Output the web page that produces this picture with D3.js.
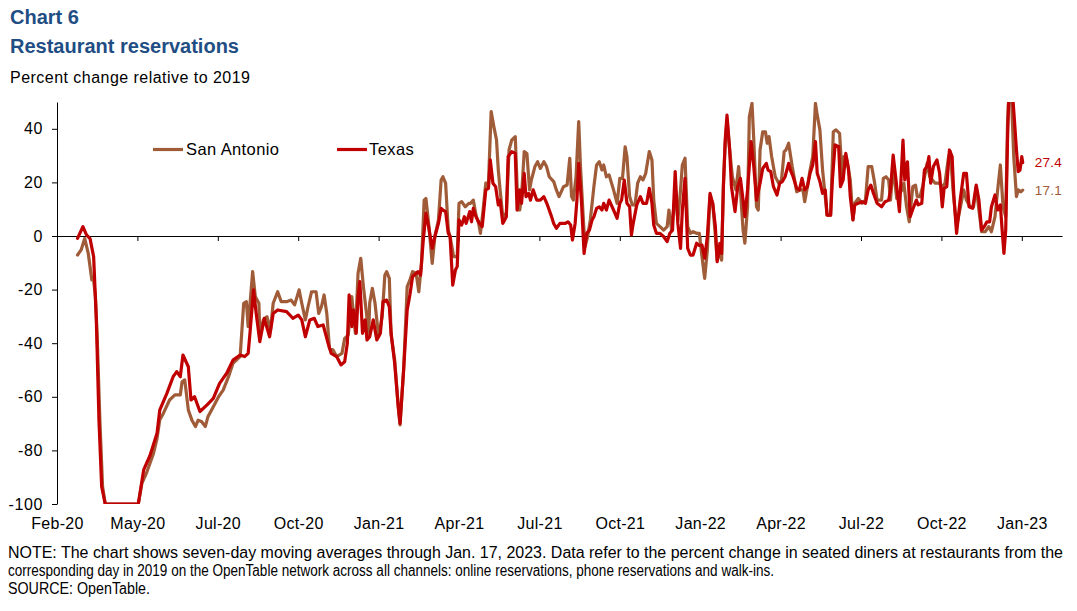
<!DOCTYPE html>
<html><head><meta charset="utf-8">
<script src="https://cdn.jsdelivr.net/npm/d3@7"></script>
<style>
html,body{margin:0;padding:0;background:#fff;}
svg{display:block;font-family:"Liberation Sans",Arial,sans-serif;}
</style></head><body>
<svg id="chart" width="1077" height="611"></svg>
<script>
// ---------------- DATA ----------------
const seriesNames = ["San Antonio", "Texas"];
const yTicks = [-100, -80, -60, -40, -20, 0, 20, 40];
const xTickDates = ["2020-02-01","2020-05-01","2020-07-30","2020-10-28","2021-01-26","2021-04-26","2021-07-25","2021-10-23","2022-01-21","2022-04-21","2022-07-20","2022-10-18","2023-01-16"];
const xTickLabels = ["Feb-20","May-20","Jul-20","Oct-20","Jan-21","Apr-21","Jul-21","Oct-21","Jan-22","Apr-22","Jul-22","Oct-22","Jan-23"];
const xDomain = ["2020-02-01","2023-03-02"];
const yDomain = [-100, 50];

const texasDates = [
"2020-02-24","2020-03-01","2020-03-05","2020-03-09","2020-03-13","2020-03-16","2020-03-19","2020-03-22",
"2020-03-26","2020-05-02","2020-05-08","2020-05-15","2020-05-23","2020-05-26","2020-06-03","2020-06-10",
"2020-06-14","2020-06-18","2020-06-21","2020-06-27","2020-06-30","2020-07-04","2020-07-10","2020-07-18",
"2020-07-25","2020-08-01","2020-08-09","2020-08-16","2020-08-24","2020-08-29","2020-09-02","2020-09-04",
"2020-09-08","2020-09-11","2020-09-15","2020-09-20","2020-09-26","2020-09-30","2020-10-05","2020-10-15",
"2020-10-22","2020-10-28","2020-11-01","2020-11-05","2020-11-10","2020-11-15","2020-11-19","2020-11-25",
"2020-12-01","2020-12-04","2020-12-10","2020-12-15","2020-12-19","2020-12-22","2020-12-24","2020-12-27",
"2020-12-29","2021-01-01","2021-01-03","2021-01-05","2021-01-08","2021-01-11","2021-01-13","2021-01-16",
"2021-01-20","2021-01-24","2021-01-28","2021-01-31","2021-02-04","2021-02-07","2021-02-09","2021-02-13",
"2021-02-17","2021-02-19","2021-02-23","2021-02-27","2021-03-02","2021-03-05","2021-03-11","2021-03-14",
"2021-03-17","2021-03-20","2021-03-23","2021-03-27","2021-03-30","2021-04-03","2021-04-06","2021-04-08",
"2021-04-11","2021-04-14","2021-04-16","2021-04-19","2021-04-22","2021-04-24","2021-04-26","2021-04-29",
"2021-05-02","2021-05-04","2021-05-08","2021-05-10","2021-05-12","2021-05-15","2021-05-19","2021-05-22",
"2021-05-26","2021-05-29","2021-05-31","2021-06-03","2021-06-06","2021-06-09","2021-06-11","2021-06-14",
"2021-06-18","2021-06-20","2021-06-24","2021-06-28","2021-06-30","2021-07-03","2021-07-05","2021-07-08",
"2021-07-10","2021-07-13","2021-07-15","2021-07-18","2021-07-22","2021-07-26","2021-07-30","2021-08-03",
"2021-08-07","2021-08-10","2021-08-13","2021-08-17","2021-08-23","2021-08-26","2021-08-29","2021-08-31",
"2021-09-03","2021-09-05","2021-09-07","2021-09-10","2021-09-13","2021-09-16","2021-09-19","2021-09-22",
"2021-09-24","2021-09-27","2021-09-30","2021-10-03","2021-10-05","2021-10-08","2021-10-11","2021-10-16",
"2021-10-20","2021-10-23","2021-10-25","2021-10-28","2021-10-31","2021-11-03","2021-11-05","2021-11-07",
"2021-11-11","2021-11-15","2021-11-18","2021-11-22","2021-11-25","2021-11-28","2021-11-30","2021-12-03",
"2021-12-07","2021-12-11","2021-12-15","2021-12-18","2021-12-21","2021-12-24","2021-12-27","2021-12-30",
"2022-01-01","2022-01-04","2022-01-07","2022-01-10","2022-01-13","2022-01-17","2022-01-20","2022-01-23",
"2022-01-26","2022-01-29","2022-02-01","2022-02-04","2022-02-07","2022-02-09","2022-02-10","2022-02-12",
"2022-02-14","2022-02-16","2022-02-18","2022-02-20","2022-02-23","2022-02-25","2022-03-01","2022-03-04",
"2022-03-07","2022-03-10","2022-03-12","2022-03-15","2022-03-19","2022-03-22","2022-03-25","2022-03-29",
"2022-04-01","2022-04-05","2022-04-07","2022-04-10","2022-04-13","2022-04-17","2022-04-20","2022-04-23",
"2022-04-26","2022-04-30","2022-05-02","2022-05-05","2022-05-09","2022-05-12","2022-05-15","2022-05-18",
"2022-05-21","2022-05-24","2022-05-27","2022-05-30","2022-06-01","2022-06-04","2022-06-07","2022-06-10",
"2022-06-12","2022-06-16","2022-06-18","2022-06-21","2022-06-25","2022-06-27","2022-06-30","2022-07-03",
"2022-07-06","2022-07-08","2022-07-11","2022-07-13","2022-07-17","2022-07-21","2022-07-25","2022-07-28",
"2022-07-31","2022-08-03","2022-08-07","2022-08-12","2022-08-16","2022-08-20","2022-08-22","2022-08-25",
"2022-08-28","2022-09-01","2022-09-05","2022-09-07","2022-09-10","2022-09-13","2022-09-17","2022-09-20",
"2022-09-22","2022-09-26","2022-09-29","2022-10-02","2022-10-04","2022-10-06","2022-10-09","2022-10-13",
"2022-10-16","2022-10-19","2022-10-21","2022-10-24","2022-10-27","2022-10-30","2022-11-01","2022-11-04",
"2022-11-08","2022-11-12","2022-11-15","2022-11-18","2022-11-22","2022-11-26","2022-11-29","2022-12-02",
"2022-12-05","2022-12-08","2022-12-11","2022-12-13","2022-12-17","2022-12-20","2022-12-23","2022-12-25",
"2022-12-27","2022-12-29","2022-12-31","2023-01-02","2023-01-05","2023-01-08","2023-01-10","2023-01-12",
"2023-01-14","2023-01-16","2023-01-17"];
const texasValues = [
-0.9,3.5,0.4,-1,-7.7,-31,-69,-93.5,
-100,-100,-87.3,-82,-73.6,-65,-58.7,-52.5,
-50.6,-52.5,-44.4,-48.8,-61.2,-60,-65.5,-63,
-60.6,-55,-51.2,-46.3,-44.4,-45,-43.8,-36.3,
-20.1,-28.9,-39.4,-30.7,-37.6,-28.9,-27.6,-28.2,
-30.7,-29.5,-31.3,-37.6,-31.3,-30.7,-33.8,-33.2,
-40.7,-43.8,-45,-48.1,-46.9,-40,-22,-33.8,
-27.6,-36.3,-22.6,-17,-36.3,-31.3,-38.8,-37.6,
-31.3,-38.8,-36.3,-24.4,-23.9,-26.4,-36.3,-47.5,
-63.7,-69.9,-50,-27.6,-22,-15.2,-13.3,-14.6,
-1.5,8.5,3.5,-4.6,-0.2,4.7,10.3,9.7,
9.1,1,-0.2,-18.3,-12.7,-11.4,6,4.1,
7.2,4.7,9.1,5.3,10.3,7.2,4.7,3.5,
17.2,17.8,28.4,19.7,18.4,11.6,13.4,4.7,
7.2,29.6,31.5,30.8,9.7,17.2,12.2,23.4,
14.7,15.9,13.4,17.2,13.4,13.4,14.7,11.6,
7.8,4.7,2.9,4.7,4.7,5.3,4.1,-1.5,
4.7,13.4,27.1,13.4,-6.5,1,2.2,6,
7.2,10.3,10.9,9.7,12.2,9.7,13.4,9.7,
6.6,12.2,13.4,20.9,12.2,10.9,0.4,4.7,
11.6,14.7,12.2,12.2,17.8,12.2,4.1,1,
1,-0.2,-2.1,1,2.2,24,4.7,-4.6,
9.7,21.5,-4.6,-7.1,-7.1,-2.7,-3.5,-3.4,
-8.3,-0.2,15.9,12.2,3.5,-9.6,-7.7,-2.7,
-6.5,18.4,35.8,45.1,32.1,18.4,9.1,18.4,
21.5,13.4,7.2,17.2,35.2,25.9,13.4,19.7,
25.2,27.1,24.6,24,18.4,15.3,19.7,20.3,
22.1,27.1,24.6,22.1,17.8,17.2,21.5,17.2,
18.4,23.4,26.5,35.2,23.4,20.3,15.9,17.2,
7.8,7.8,20.9,34,33.3,18.4,20.9,30.8,
25.2,14.7,6,11.6,12.2,12.8,12.2,17.2,
19,15.9,12.2,10.9,12.8,13.4,17.2,30.2,
21.5,9.1,35.8,20.9,27.7,7.2,10.9,13.4,
11.6,12.2,24.6,25.9,29.6,19.7,25.9,28.4,
23.4,10.9,17.8,18.4,32.1,29.6,14.7,1,
13.4,23.4,23.4,10.9,10.3,19,13.4,2.2,
3.5,5.3,5.3,10.9,15.3,9.7,11.6,2.2,
-6.5,2.2,35.8,58,56,42,32.1,24,
24.6,29.6,27.4];

const sanAntonioDates = [
"2020-02-24","2020-02-28","2020-03-03","2020-03-07","2020-03-11","2020-03-13","2020-03-15","2020-03-17",
"2020-03-20","2020-03-23","2020-03-26","2020-05-02","2020-05-06","2020-05-11","2020-05-19","2020-05-23",
"2020-05-26","2020-05-30","2020-06-06","2020-06-12","2020-06-18","2020-06-20","2020-06-23","2020-06-27",
"2020-07-01","2020-07-05","2020-07-08","2020-07-12","2020-07-16","2020-07-19","2020-07-25","2020-07-31",
"2020-08-05","2020-08-11","2020-08-16","2020-08-24","2020-08-28","2020-08-31","2020-09-02","2020-09-07",
"2020-09-10","2020-09-14","2020-09-15","2020-09-19","2020-09-23","2020-09-27","2020-09-30","2020-10-05",
"2020-10-09","2020-10-15","2020-10-20","2020-10-24","2020-10-29","2020-11-01","2020-11-05","2020-11-08",
"2020-11-12","2020-11-17","2020-11-20","2020-11-23","2020-11-26","2020-11-29","2020-12-02","2020-12-06",
"2020-12-10","2020-12-16","2020-12-19","2020-12-23","2020-12-27","2020-12-31","2021-01-03","2021-01-06",
"2021-01-09","2021-01-12","2021-01-15","2021-01-16","2021-01-19","2021-01-22","2021-01-26","2021-01-30",
"2021-02-02","2021-02-04","2021-02-07","2021-02-09","2021-02-13","2021-02-17","2021-02-19","2021-02-23",
"2021-02-27","2021-03-02","2021-03-05","2021-03-09","2021-03-12","2021-03-15","2021-03-18","2021-03-20",
"2021-03-23","2021-03-27","2021-03-30","2021-04-03","2021-04-06","2021-04-08","2021-04-11","2021-04-14",
"2021-04-16","2021-04-20","2021-04-24","2021-04-26","2021-04-29","2021-05-03","2021-05-07","2021-05-09",
"2021-05-12","2021-05-15","2021-05-18","2021-05-20","2021-05-23","2021-05-26","2021-05-29","2021-06-01",
"2021-06-04","2021-06-07","2021-06-09","2021-06-11","2021-06-14","2021-06-18","2021-06-21","2021-06-24",
"2021-06-28","2021-07-01","2021-07-03","2021-07-05","2021-07-08","2021-07-11","2021-07-14","2021-07-16",
"2021-07-20","2021-07-23","2021-07-26","2021-07-30","2021-08-02","2021-08-05","2021-08-10","2021-08-13",
"2021-08-16","2021-08-21","2021-08-25","2021-08-28","2021-08-30","2021-09-01","2021-09-04","2021-09-07",
"2021-09-09","2021-09-12","2021-09-14","2021-09-17","2021-09-20","2021-09-24","2021-09-27","2021-09-30",
"2021-10-03","2021-10-05","2021-10-08","2021-10-11","2021-10-16","2021-10-20","2021-10-23","2021-10-26",
"2021-10-29","2021-10-31","2021-11-03","2021-11-06","2021-11-09","2021-11-12","2021-11-15","2021-11-18",
"2021-11-21","2021-11-25","2021-11-28","2021-11-30","2021-12-03","2021-12-07","2021-12-11","2021-12-15",
"2021-12-17","2021-12-20","2021-12-24","2021-12-27","2021-12-30","2022-01-01","2022-01-04","2022-01-07",
"2022-01-10","2022-01-13","2022-01-17","2022-01-20","2022-01-23","2022-01-26","2022-01-29","2022-02-01",
"2022-02-04","2022-02-07","2022-02-09","2022-02-12","2022-02-14","2022-02-16","2022-02-18","2022-02-20",
"2022-02-23","2022-02-26","2022-03-02","2022-03-05","2022-03-07","2022-03-10","2022-03-12","2022-03-15",
"2022-03-17","2022-03-20","2022-03-22","2022-03-25","2022-03-27","2022-03-29","2022-04-01","2022-04-04",
"2022-04-06","2022-04-08","2022-04-11","2022-04-15","2022-04-19","2022-04-22","2022-04-25","2022-04-27",
"2022-04-30","2022-05-04","2022-05-07","2022-05-09","2022-05-13","2022-05-16","2022-05-18","2022-05-21",
"2022-05-24","2022-05-27","2022-05-30","2022-06-01","2022-06-04","2022-06-07","2022-06-10","2022-06-12",
"2022-06-16","2022-06-19","2022-06-22","2022-06-26","2022-06-29","2022-07-01","2022-07-04","2022-07-08",
"2022-07-11","2022-07-13","2022-07-17","2022-07-21","2022-07-25","2022-07-28","2022-08-01","2022-08-04",
"2022-08-07","2022-08-12","2022-08-14","2022-08-17","2022-08-20","2022-08-22","2022-08-25","2022-08-29",
"2022-09-01","2022-09-04","2022-09-06","2022-09-09","2022-09-12","2022-09-16","2022-09-19","2022-09-21",
"2022-09-24","2022-09-27","2022-10-02","2022-10-05","2022-10-08","2022-10-11","2022-10-15","2022-10-19",
"2022-10-22","2022-10-26","2022-10-28","2022-10-31","2022-11-04","2022-11-08","2022-11-12","2022-11-15",
"2022-11-19","2022-11-23","2022-11-26","2022-11-29","2022-12-02","2022-12-06","2022-12-10","2022-12-13",
"2022-12-17","2022-12-20","2022-12-23","2022-12-26","2022-12-29","2022-12-31","2023-01-01","2023-01-04",
"2023-01-07","2023-01-10","2023-01-12","2023-01-15","2023-01-17"];
const sanAntonioValues = [
-7.1,-5.2,-0.9,-6.5,-16.4,-16.4,-22.6,-37.6,
-68.7,-93.5,-100,-100,-92.3,-88.6,-81.1,-75.5,
-68.7,-66.2,-61.2,-59.3,-59.3,-54.4,-53.7,-64.9,
-68.7,-71.1,-68.7,-69.3,-71.1,-67.4,-63.7,-59.9,
-57.5,-52.5,-47.5,-45,-25.1,-24.5,-33.8,-13.3,
-22.6,-25.1,-36.3,-31.3,-30.1,-35,-25.1,-20.8,
-24.5,-24.5,-23.9,-25.7,-20.1,-25.1,-31.3,-26.4,
-20.8,-20.8,-28.9,-26.4,-22,-28.9,-41.9,-42.5,
-45,-43.8,-38.2,-37,-22.6,-36.3,-13.9,-8.3,
-18.9,-27.6,-36.3,-25.1,-19.5,-25.1,-37.6,-30.1,
-14.6,-13.3,-15.8,-36.9,-46.3,-63.7,-70.5,-50,
-18.9,-16.5,-13.3,-13.9,-20.8,-10.2,13.4,14,
4.7,-10.2,-0.2,6,20.9,22.1,19.7,2.2,
-0.2,-7.7,-7.7,12.2,12.8,10.9,12.2,12.2,
13.4,7.8,4.7,1,9.7,19.7,19.7,46.4,
40.8,35.8,24.6,17.2,7.2,8.5,32.1,35.8,
37.1,9.7,9.7,14.7,31.5,30.8,17.2,20.9,
25.9,27.7,25.2,27.7,25.9,22.1,20.3,17.2,
14.7,18.4,19,29,14.7,13.4,22.1,42.7,
25.9,7.2,-4,-0.2,6,18.4,26.5,27.7,
24.6,26.5,22.1,22.8,17.2,12.2,21.5,21.5,
33.3,29.6,14.7,11.6,11.6,19.7,22.1,20.9,
23.4,31.5,28.4,13.4,4.7,3.5,2.2,3.5,
9.7,2.2,15.9,6,17.2,26.5,29,3.5,
1,1.6,1,1,-7.7,-15.8,-5.2,14.7,
12.2,0,-9,-5.2,-9,19.7,34.6,43.3,
32.1,22.1,17.2,25.9,17.2,2.2,-2.7,10.9,
44.5,49.5,35.8,10.9,9.7,32.1,38.9,38.9,
34.6,37.1,29.6,22.1,19.7,20.9,31.5,32.1,
34.6,25.9,20.3,16.5,17.2,17.2,12.8,18.4,
24.6,29.6,49.5,45.1,39.6,24.6,14.7,7.8,
7.8,38.9,39.6,38.3,22.1,29.6,28.4,20.9,
6,12.2,14,12.2,13.4,25.9,25.9,20.3,
13.4,13.4,21.5,22.1,20.9,13.4,25.9,14,
15.9,17.2,19.7,10.9,5.3,18.4,19,14.7,
14.7,18.4,27.1,22.1,20.9,19.7,19.7,18.4,
19.7,29.6,31.5,17.2,3.5,10.3,17.2,13.4,
10.9,10.9,18.4,9.7,1.6,1.6,3.5,1.6,
7.2,17.2,26.5,10.9,7.2,42,49.5,55,
29.6,14.7,17.2,16.5,17.1];

const seriesColors = ["#A05C38", "#C00000"];

// ---------------- CHART ----------------
const svg = d3.select("#chart");
const parse = d3.utcParse("%Y-%m-%d");
const plot = {left: 57, right: 1062, top: 102, bottom: 504};

const x = d3.scaleUtc().domain(xDomain.map(parse)).range([plot.left, plot.right]);
const y = d3.scaleLinear().domain(yDomain).range([plot.bottom, plot.top]);

svg.append("rect").attr("width",1077).attr("height",611).attr("fill","#fff");

// titles
svg.append("text").attr("x",10).attr("y",24).attr("fill","#1F4E84")
  .style("font-weight","bold").style("font-size","20px").text("Chart 6");
svg.append("text").attr("x",10).attr("y",53).attr("fill","#1F4E84")
  .style("font-weight","bold").style("font-size","20px").text("Restaurant reservations");
svg.append("text").attr("x",10).attr("y",83).attr("fill","#000")
  .style("font-size","16px").attr("textLength",240).attr("lengthAdjust","spacing")
  .text("Percent change relative to 2019");

// y axis
const gy = svg.append("g").attr("transform",`translate(${plot.left},0)`)
  .call(d3.axisLeft(y).tickValues(yTicks).tickSize(5).tickSizeOuter(0).tickPadding(9)
    .tickFormat(d => String(d)));
gy.selectAll("text").style("font-size","16px").attr("fill","#000").attr("letter-spacing","0.6px");
gy.selectAll("line,path").attr("stroke","#000");

// x axis (crossing at zero)
const tickDates = xTickDates.map(parse);
const gx = svg.append("g").attr("transform",`translate(0,${y(0)})`)
  .call(d3.axisBottom(x).tickValues(tickDates).tickSize(5).tickSizeOuter(0)
    .tickFormat((d,i)=>xTickLabels[i]));
gx.selectAll("line,path").attr("stroke","#000");
gx.selectAll(".tick text").attr("y", y(-100) - y(0) + 25).attr("dy",0)
  .style("font-size","16px").attr("fill","#000").attr("letter-spacing","0.3px");

// clip
svg.append("clipPath").attr("id","clip").append("rect")
  .attr("x",plot.left).attr("y",plot.top).attr("width",plot.right-plot.left).attr("height",plot.bottom-plot.top);

const line = d3.line().x(d=>x(d[0])).y(d=>y(d[1]));
const saData = sanAntonioDates.map((d,i)=>[parse(d), sanAntonioValues[i]]);
const txData = texasDates.map((d,i)=>[parse(d), texasValues[i]]);
const lines = svg.append("g").attr("clip-path","url(#clip)");
[saData, txData].forEach((data,i)=>{
  lines.append("path").datum(data).attr("d",line).attr("fill","none")
    .attr("stroke",seriesColors[i]).attr("stroke-width",3.2)
    .attr("stroke-linejoin","round").attr("stroke-linecap","round");
});

// end labels
[saData, txData].forEach((data,i)=>{
  const last = data[data.length-1];
  svg.append("text").attr("x", x(last[0]) + 12).attr("y", y(last[1])).attr("dy","0.35em")
    .attr("fill",seriesColors[i]).style("font-size","13.5px").attr("letter-spacing","0.3px")
    .text(last[1].toFixed(1));
});

// legend
const legend = [{x:153, tx:186}, {x:337, tx:369}];
legend.forEach((p,i)=>{
  svg.append("line").attr("x1",p.x).attr("x2",p.x+30).attr("y1",149.5).attr("y2",149.5)
    .attr("stroke",seriesColors[i]).attr("stroke-width",3.2);
  svg.append("text").attr("x",p.tx).attr("y",149.5).attr("dy","0.36em")
    .style("font-size","16.5px").attr("letter-spacing","0.4px").attr("fill","#000").text(seriesNames[i]);
});

// footer
const notes = [
 "NOTE: The chart shows seven-day moving averages through Jan. 17, 2023. Data refer to the percent change in seated diners at restaurants from the",
 "corresponding day in 2019 on the OpenTable network across all channels: online reservations, phone reservations and walk-ins.",
 "SOURCE: OpenTable."
];
const noteWidths = [1055, 766, 142];
notes.forEach((t,i)=>{
  svg.append("text").attr("x",8).attr("y",558 + i*18)
    .style("font-family","'Liberation Sans Narrow','Liberation Sans',Arial,sans-serif")
    .style("font-size","16px").attr("fill","#000")
    .attr("textLength",noteWidths[i]).attr("lengthAdjust","spacingAndGlyphs").text(t);
});
</script>
</body></html>
